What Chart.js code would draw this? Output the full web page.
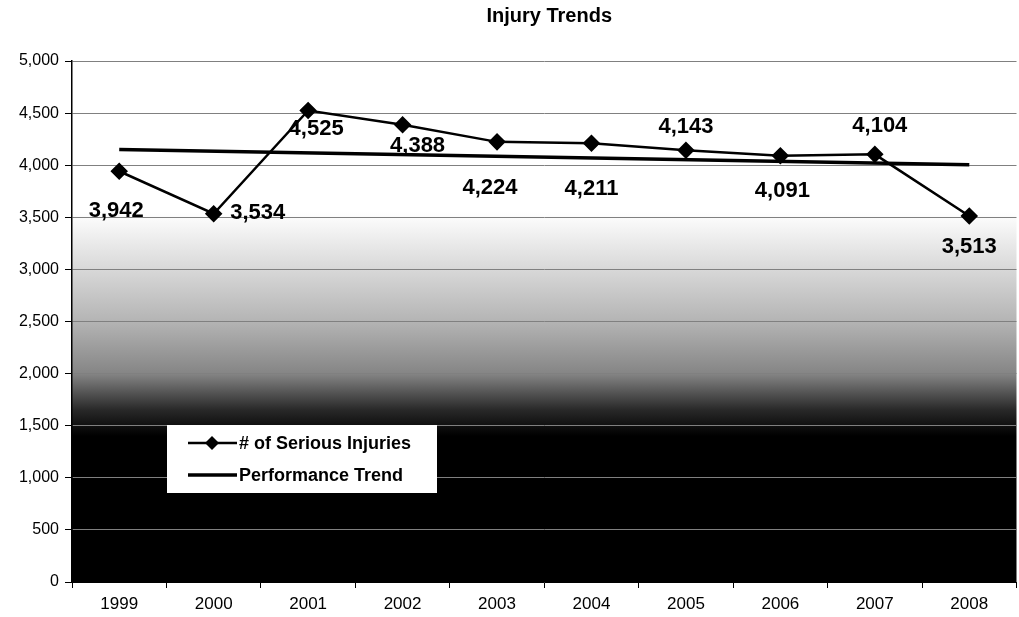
<!DOCTYPE html>
<html>
<head>
<meta charset="utf-8">
<script src="https://cdn.jsdelivr.net/npm/chart.js@4/dist/chart.umd.min.js"></script>
<style>
  html, body { margin: 0; padding: 0; background: #fff; overflow: hidden; }
  #wrap { width: 1019px; height: 617px; overflow: hidden; }
</style>
</head>
<body>
<!-- canvas is a few px wider than the view: Chart.js keeps ~7px spare on the right -->
<div id="wrap"><canvas id="injuryChart" width="1026" height="617"></canvas></div>
<script>
// chart data
const years = ['1999', '2000', '2001', '2002', '2003', '2004', '2005', '2006', '2007', '2008'];
const seriousInjuries = [3942, 3534, 4525, 4388, 4224, 4211, 4143, 4091, 4104, 3513];
const performanceTrend = [4150, null, null, null, null, null, null, null, null, 4005];
const yTicks = [0, 500, 1000, 1500, 2000, 2500, 3000, 3500, 4000, 4500, 5000];

// where each value label sits relative to its point (px)
const labelOffsets = [[-3, 40], [44, -1], [8, 18], [15, 21], [-7, 46], [0, 46], [0, -23], [2, 35], [5, -28], [0, 31]];

const bgPlugin = {
    id: 'bgGradient',
    beforeDraw(chart) {
        const { ctx, chartArea: a } = chart;
        const g = ctx.createLinearGradient(0, a.top, 0, a.bottom);
        g.addColorStop(0, '#ffffff');
        g.addColorStop(0.29, '#ffffff');
        g.addColorStop(0.40, '#d8d8d8');
        g.addColorStop(0.50, '#b4b4b4');
        g.addColorStop(0.60, '#858585');
        g.addColorStop(0.67, '#282828');
        g.addColorStop(0.72, '#000000');
        g.addColorStop(1, '#000000');
        ctx.save();
        ctx.fillStyle = g;
        ctx.fillRect(a.left, a.top, a.right - a.left, a.bottom - a.top);
        ctx.restore();
    }
};

const labelPlugin = {
    id: 'valueLabels',
    afterDatasetsDraw(chart) {
        const { ctx } = chart;
        const meta = chart.getDatasetMeta(0);
        ctx.save();
        ctx.font = 'bold 22px "Liberation Sans", Arial, sans-serif';
        ctx.fillStyle = '#000';
        ctx.textAlign = 'center';
        ctx.textBaseline = 'middle';
        meta.data.forEach((pt, i) => {
            const [dx, dy] = labelOffsets[i];
            ctx.fillText(seriousInjuries[i].toLocaleString('en-US'), pt.x + dx, pt.y + dy);
        });
        ctx.restore();
    }
};

const titleLegendPlugin = {
    id: 'titleLegend',
    afterDraw(chart) {
        const { ctx, chartArea: a } = chart;
        ctx.save();
        // title
        ctx.font = 'bold 20px "Liberation Sans", Arial, sans-serif';
        ctx.fillStyle = '#000';
        ctx.textAlign = 'center';
        ctx.textBaseline = 'middle';
        ctx.fillText('Injury Trends', (a.left + a.right) / 2 + 5, 16);

        // legend box
        const bx = 167, by = 425, bw = 270, bh = 68;
        ctx.fillStyle = '#fff';
        ctx.fillRect(bx, by, bw, bh);
        ctx.strokeStyle = '#000';
        const rows = [
            { y: 443, ds: chart.data.datasets[0] },
            { y: 475, ds: chart.data.datasets[1] }
        ];
        ctx.font = 'bold 18px "Liberation Sans", Arial, sans-serif';
        ctx.textAlign = 'left';
        rows.forEach(r => {
            ctx.beginPath();
            ctx.lineWidth = r.ds.borderWidth;
            ctx.moveTo(188, r.y);
            ctx.lineTo(237, r.y);
            ctx.stroke();
            if (r.ds.pointRadius > 0) {
                ctx.beginPath();
                ctx.moveTo(212, r.y - 7);
                ctx.lineTo(219, r.y);
                ctx.lineTo(212, r.y + 7);
                ctx.lineTo(205, r.y);
                ctx.closePath();
                ctx.fillStyle = '#000';
                ctx.fill();
            }
            ctx.fillStyle = '#000';
            ctx.fillText(r.ds.label, 239, r.y + 1);
        });
        ctx.restore();
    }
};

const ctx = document.getElementById('injuryChart').getContext('2d');
new Chart(ctx, {
    type: 'line',
    data: {
        labels: years,
        datasets: [{
            label: '# of Serious Injuries',
            data: seriousInjuries,
            borderColor: '#000',
            backgroundColor: '#000',
            borderWidth: 2.5,
            pointStyle: 'rectRot',
            pointRadius: 7,
            pointBackgroundColor: '#000',
            pointBorderColor: '#000',
            tension: 0,
            order: 1
        }, {
            label: 'Performance Trend',
            data: performanceTrend,
            borderColor: '#000',
            backgroundColor: '#000',
            borderWidth: 3.5,
            pointRadius: 0,
            spanGaps: true,
            tension: 0,
            order: 2
        }]
    },
    options: {
        responsive: false,
        animation: false,
        layout: { padding: { top: 61, right: 2, left: 0, bottom: 0 } },
        plugins: {
            legend: { display: false },
            title: { display: false },
            tooltip: { enabled: false }
        },
        scales: {
            x: {
                offset: true,
                afterFit(scale) { scale.height = 35; },
                grid: {
                    offset: true,
                    drawOnChartArea: false,
                    drawTicks: true,
                    tickLength: 6,
                    color: '#000'
                },
                border: { display: true, color: '#000', width: 1 },
                ticks: {
                    padding: 6,
                    color: '#000',
                    maxRotation: 0,
                    font: { family: '"Liberation Sans", Arial, sans-serif', size: 17 }
                }
            },
            y: {
                min: 0,
                max: 5000,
                afterFit(scale) { scale.width = 72; },
                afterBuildTicks(scale) { scale.ticks = yTicks.map(v => ({ value: v })); },
                grid: {
                    color: '#808080',
                    tickColor: '#000',
                    drawTicks: true,
                    tickLength: 7,
                    lineWidth: 1
                },
                border: { display: true, color: '#000', width: 1.5 },
                ticks: {
                    padding: 6,
                    color: '#000',
                    font: { family: '"Liberation Sans", Arial, sans-serif', size: 16 },
                    callback: v => Number(v).toLocaleString('en-US')
                }
            }
        }
    },
    plugins: [bgPlugin, labelPlugin, titleLegendPlugin]
});
</script>
</body>
</html>
